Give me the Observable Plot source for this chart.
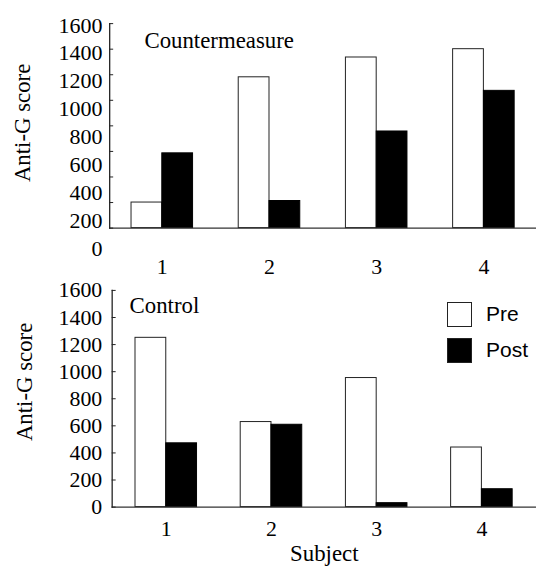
<!DOCTYPE html>
<html>
<head>
<meta charset="utf-8">
<script src="https://cdn.jsdelivr.net/npm/d3@7"></script>
<script src="https://cdn.jsdelivr.net/npm/@observablehq/plot@0.6"></script>
<style>
  html, body { margin: 0; padding: 0; background: #fff; overflow: hidden; }
  #wrap { position: relative; width: 536px; height: 567px; }
  #wrap svg { display: block; }
  .panel { position: relative; }
  .overlay { position: absolute; left: 0; top: 0; }
  #legend { position: absolute; left: 447px; top: 301px; font-family: "Liberation Sans", Arial, sans-serif; font-size: 21px; color: #000; }
  #legend .row { display: flex; align-items: center; height: 26px; margin-bottom: 10px; }
  #legend .sw { width: 25px; height: 25px; box-sizing: border-box; border: 1px solid #222; margin-right: 14px; }
</style>
</head>
<body>
<div id="wrap"></div>
<script>
// ---- data ----
const subjects = ["1", "2", "3", "4"];
const countermeasurePre  = [200, 1180, 1335, 1400];
const countermeasurePost = [585, 212, 756, 1074];
const controlPre  = [1250, 628, 953, 440];
const controlPost = [471, 608, 29, 132];
const yTicks = [0, 200, 400, 600, 800, 1000, 1200, 1400, 1600];
const series = ["Pre", "Post"];
const panelTitles = ["Countermeasure", "Control"];
const yLabel = "Anti-G score";
const xLabel = "Subject";

const rows = (pre, post) => subjects.map((s, i) => ({subject: s, pre: pre[i], post: post[i]}));
const cmData = rows(countermeasurePre, countermeasurePost);
const ctlData = rows(controlPre, controlPost);

const serif = "Liberation Serif";
const fmt = d => String(d);
const wrap = document.getElementById("wrap");

function panel({data, title, height, marginLeft, marginTop, marginBottom, pi, po, tickPadding, ylabelDy, titleDx, titleDy, showTickLabels, xTitle}) {
  return Plot.plot({
    width: 540,
    height,
    marginLeft,
    marginRight: 0,
    marginTop,
    marginBottom,
    style: {fontFamily: serif, fontSize: "22px", color: "#000", background: "transparent", overflow: "visible"},
    x: {domain: subjects, paddingInner: pi, paddingOuter: po, align: 0.5},
    y: {domain: [0, 1600]},
    marks: [
      Plot.barY(data, {x: "subject", y: "pre", fill: "white", stroke: "#222", strokeWidth: 1, insetRight: 31, insetLeft: 0}),
      Plot.barY(data, {x: "subject", y: "post", fill: "black", stroke: "black", strokeWidth: 1, insetLeft: 31, insetRight: 0}),
      Plot.ruleY([0], {stroke: "#333", strokeWidth: 1.3}),
      Plot.frame({anchor: "left", stroke: "#222", strokeWidth: 1.3}),
      Plot.axisY({ticks: yTicks, tickSize: 4, dx: 4, fill: "none", stroke: "#222", label: null}),
      showTickLabels ? Plot.axisY({ticks: yTicks, tickFormat: fmt, tickSize: 0, tickPadding: 10, label: null, fontFamily: serif, fontSize: 22}) : null,
      Plot.axisX({tickSize: 0, tickPadding, label: null, fontFamily: serif, fontSize: 22}),
      Plot.text([yLabel], {text: d => d, frameAnchor: "left", textAnchor: "middle", lineAnchor: "middle", rotate: -90, dx: -88, dy: ylabelDy, fontFamily: serif, fontSize: 23}),
      Plot.text([title], {text: d => d, frameAnchor: "top-left", textAnchor: "start", lineAnchor: "middle", dx: titleDx, dy: titleDy, fontFamily: serif, fontSize: 23}),
      xTitle ? Plot.text([xTitle], {text: d => d, frameAnchor: "bottom", textAnchor: "middle", lineAnchor: "middle", dy: 47, fontFamily: serif, fontSize: 23}) : null
    ]
  });
}

// top panel
const topPanel = document.createElement("div");
topPanel.className = "panel";
topPanel.style.height = "280px";
topPanel.appendChild(panel({
  data: cmData, title: panelTitles[0], height: 280,
  marginLeft: 110, marginTop: 23.3, marginBottom: 50.7,
  pi: 0.428, po: 0.198, tickPadding: 31, ylabelDy: -3, titleDx: 35, titleDy: 16.7,
  showTickLabels: false, xTitle: null
}));
// top panel's y tick labels (printed on a slightly stretched spacing in the source figure)
const labels = Plot.plot({
  width: 110, height: 280,
  marginLeft: 102, marginRight: 0, marginTop: 25, marginBottom: 31.7,
  style: {fontFamily: serif, fontSize: "22px", color: "#000", background: "transparent", overflow: "visible"},
  y: {domain: [0, 1600]},
  marks: [Plot.axisY({ticks: yTicks, tickFormat: fmt, tickSize: 0, tickPadding: 0, label: null, fontFamily: serif, fontSize: 22})]
});
labels.classList.add("overlay");
topPanel.appendChild(labels);
wrap.appendChild(topPanel);

// bottom panel
const bottomPanel = document.createElement("div");
bottomPanel.className = "panel";
bottomPanel.style.height = "287px";
bottomPanel.appendChild(panel({
  data: ctlData, title: panelTitles[1], height: 287,
  marginLeft: 112.5, marginTop: 10, marginBottom: 58.7,
  pi: 0.417, po: 0.2115, tickPadding: 13, ylabelDy: -17, titleDx: 17.5, titleDy: 15,
  showTickLabels: true, xTitle: xLabel
}));
wrap.appendChild(bottomPanel);

// legend
const legend = document.createElement("div");
legend.id = "legend";
series.forEach((s, i) => {
  const row = document.createElement("div");
  row.className = "row";
  const sw = document.createElement("span");
  sw.className = "sw";
  sw.style.background = i === 0 ? "white" : "black";
  const t = document.createElement("span");
  t.textContent = s;
  row.appendChild(sw);
  row.appendChild(t);
  legend.appendChild(row);
});
wrap.appendChild(legend);
</script>
</body>
</html>
